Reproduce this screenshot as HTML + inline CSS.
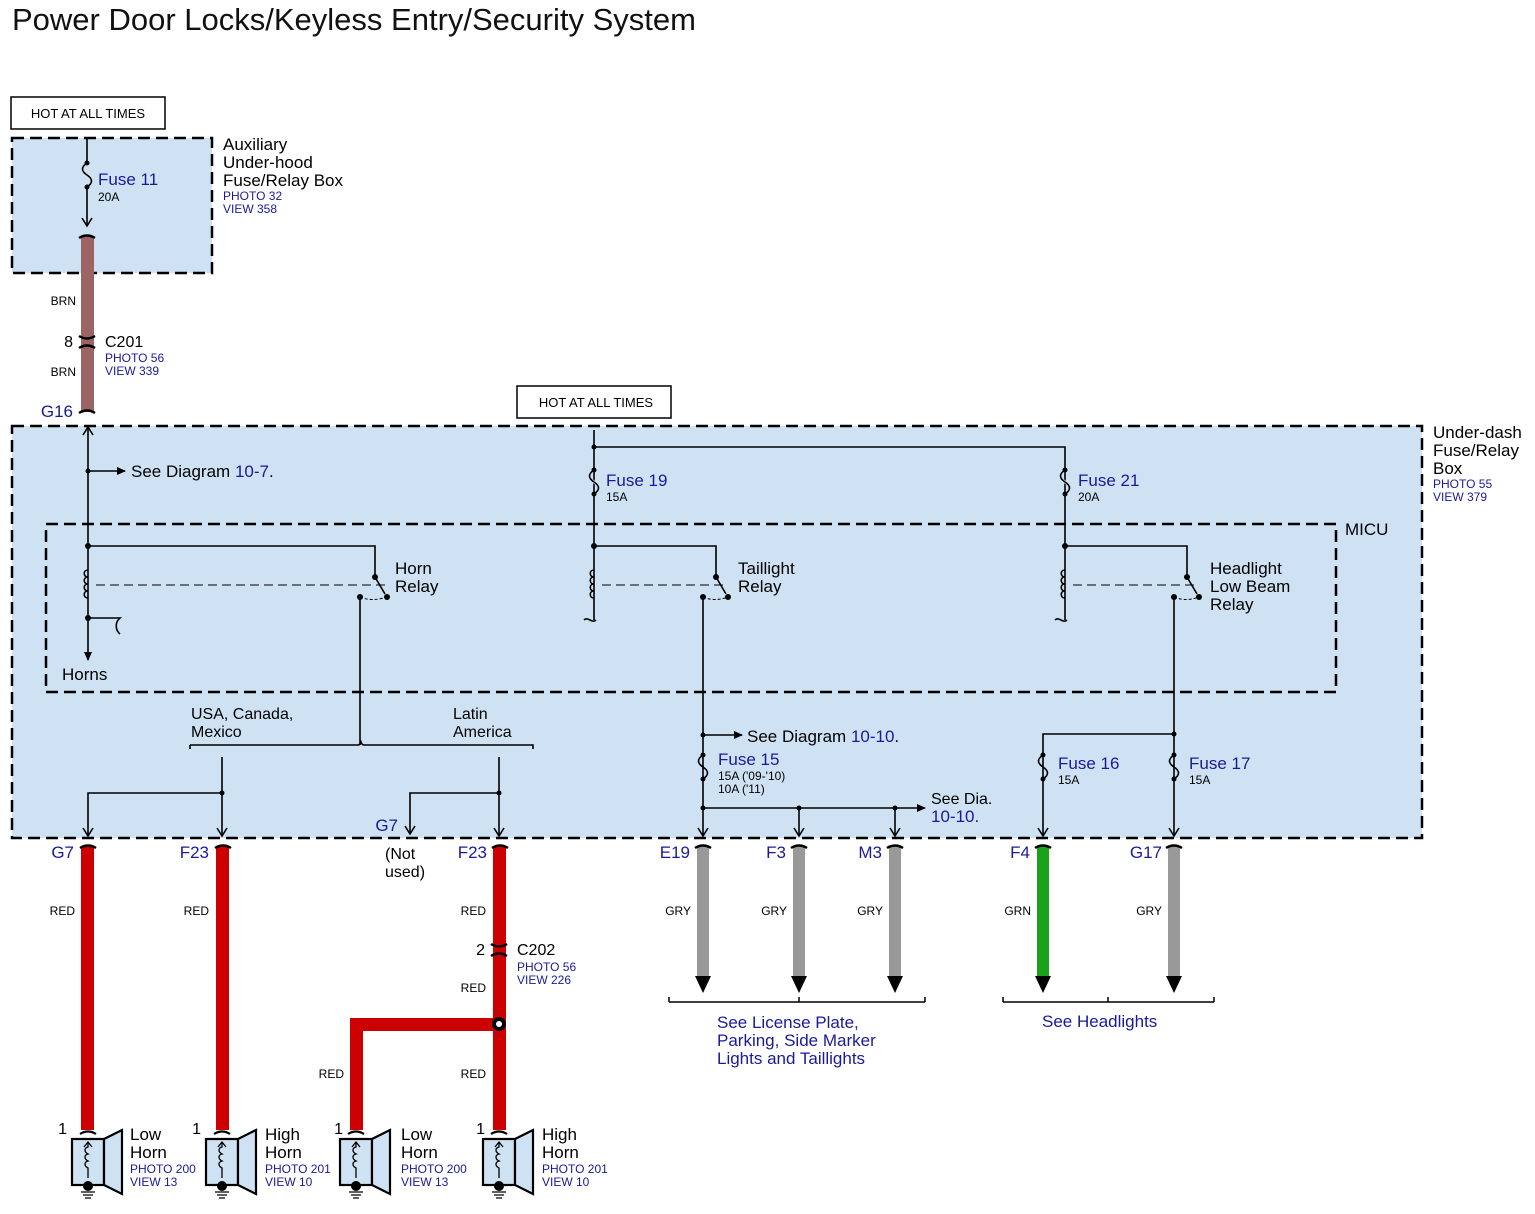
<!DOCTYPE html>
<html><head><meta charset="utf-8"><style>
html,body{margin:0;padding:0;background:#fff}
svg{display:block}
text{font-family:"Liberation Sans",Arial,sans-serif}
.b{fill:#1a1a99}
.k{fill:#111}
</style></head><body>
<svg width="1535" height="1214" viewBox="0 0 1535 1214" xmlns="http://www.w3.org/2000/svg">
<defs>
<marker id="ar" markerWidth="10" markerHeight="10" refX="8" refY="5" orient="auto" markerUnits="userSpaceOnUse"><path d="M0,1 L9,5 L0,9 z" fill="#000"/></marker>
<marker id="av" markerWidth="12" markerHeight="12" refX="10" refY="6" orient="auto" markerUnits="userSpaceOnUse"><path d="M2,1 L10,6 L2,11" fill="none" stroke="#000" stroke-width="1.6"/></marker>
</defs>
<text x="12" y="30" font-size="31" class="k">Power Door Locks/Keyless Entry/Security System</text>

<!-- Aux box -->
<rect x="11" y="97" width="154" height="32" fill="#fff" stroke="#000" stroke-width="1.5"/>
<text x="88" y="118" font-size="13" text-anchor="middle">HOT AT ALL TIMES</text>
<rect x="12" y="138" width="200" height="135" fill="#cfe2f3" stroke="#000" stroke-width="2.5" stroke-dasharray="12,6"/>
<text x="223" y="150" font-size="17">Auxiliary</text>
<text x="223" y="168" font-size="17">Under-hood</text>
<text x="223" y="186" font-size="17">Fuse/Relay Box</text>
<text x="223" y="200" font-size="12" class="b">PHOTO 32</text>
<text x="223" y="213" font-size="12" class="b">VIEW 358</text>
<g stroke="#000" stroke-width="1.6" fill="none">
<path d="M87 138 V163 c-6 4 -6 8 0 12 c6 4 6 8 0 12 V226" marker-end="url(#av)"/>
</g>
<circle cx="87" cy="163" r="2.5"/><circle cx="87" cy="187" r="2.5"/>
<text x="98" y="185" font-size="17" class="b">Fuse 11</text>
<text x="98" y="201" font-size="12">20A</text>
<rect x="81" y="236" width="13" height="176" fill="#9c6464"/>
<g stroke="#000" stroke-width="2.5" fill="none">
<path d="M79 238 q8 -5 16 0"/>
<path d="M79 336 q8 5 16 0"/><path d="M79 348 q8 -5 16 0"/>
<path d="M79 413 q8 -5 16 0"/>
</g>
<text x="76" y="305" font-size="12" text-anchor="end">BRN</text>
<text x="76" y="376" font-size="12" text-anchor="end">BRN</text>
<text x="73" y="347" font-size="16" text-anchor="end">8</text>
<text x="105" y="347" font-size="16">C201</text>
<text x="105" y="362" font-size="12" class="b">PHOTO 56</text>
<text x="105" y="375" font-size="12" class="b">VIEW 339</text>
<text x="73" y="417" font-size="17" class="b" text-anchor="end">G16</text>

<!-- Under-dash box -->
<rect x="517" y="386" width="154" height="32" fill="#fff" stroke="#000" stroke-width="1.5"/>
<text x="596" y="407" font-size="13" text-anchor="middle">HOT AT ALL TIMES</text>
<rect x="12" y="426" width="1410" height="412" fill="#cfe2f3" stroke="#000" stroke-width="2.5" stroke-dasharray="12,6"/>
<text x="1433" y="438" font-size="17">Under-dash</text>
<text x="1433" y="456" font-size="17">Fuse/Relay</text>
<text x="1433" y="474" font-size="17">Box</text>
<text x="1433" y="488" font-size="12" class="b">PHOTO 55</text>
<text x="1433" y="501" font-size="12" class="b">VIEW 379</text>
<rect x="46" y="524" width="1290" height="168" fill="none" stroke="#000" stroke-width="2.5" stroke-dasharray="12,6"/>
<text x="1345" y="535" font-size="17">MICU</text>

<g stroke="#000" stroke-width="1.6" fill="none">
<!-- Horn relay -->
<path d="M88 648 V427" marker-end="url(#av)"/>
<path d="M88 648 V660" marker-end="url(#ar)"/>
<path d="M88 471 H125" marker-end="url(#ar)"/>
<path d="M88 546 H375 V577 L385 594"/>
<path d="M88 570 c-5 0 -5 7 0 7 c-5 0 -5 7 0 7 c-5 0 -5 7 0 7 c-5 0 -5 7 0 7"/>
<path d="M88 618 H120 c-5 4 -5 12 0 16"/>
<path d="M360 597 V745"/>
<path d="M96 585 H385" stroke-dasharray="9,5" stroke-width="1"/>
<path d="M360 597 q12 5 27 0" stroke-dasharray="3,2" stroke-width="1"/>
<!-- bus -->
<path d="M594 430 V620 M594 447 H1065 V620"/>
<path d="M594 470 c-6 4 -6 8 0 12 c6 4 6 8 0 12" stroke="#cfe2f3" stroke-width="3"/>
<path d="M594 470 c-6 4 -6 8 0 12 c6 4 6 8 0 12"/>
<path d="M1065 470 c-6 4 -6 8 0 12 c6 4 6 8 0 12" stroke="#cfe2f3" stroke-width="3"/>
<path d="M1065 470 c-6 4 -6 8 0 12 c6 4 6 8 0 12"/>
<!-- Taillight -->
<path d="M594 546 H716 V577 L726 594"/>
<path d="M602 585 H726" stroke-dasharray="9,5" stroke-width="1"/>
<path d="M703 597 q12 5 25 0" stroke-dasharray="3,2" stroke-width="1"/>
<path d="M584 620 c4 -4 8 4 12 0"/>
<path d="M703 597 V836" marker-end="url(#av)"/>
<path d="M703 735 H742" marker-end="url(#ar)"/>
<path d="M703 808 H925" marker-end="url(#ar)"/>
<path d="M799 808 V836" marker-end="url(#av)"/>
<path d="M895 808 V836" marker-end="url(#av)"/>
<!-- Headlight -->
<path d="M1065 546 H1187 V577 L1197 594"/>
<path d="M1073 585 H1197" stroke-dasharray="9,5" stroke-width="1"/>
<path d="M1174 597 q12 5 25 0" stroke-dasharray="3,2" stroke-width="1"/>
<path d="M1055 620 c4 -4 8 4 12 0"/>
<path d="M1174 597 V836" marker-end="url(#av)"/>
<path d="M1174 734 H1043 V836" marker-end="url(#av)"/>
<!-- USA / Latin -->
<path d="M190 745 H358 q2 0 3 -3 q1 3 3 3 H533 V749 M190 745 V749"/>
<path d="M222 757 V836" marker-end="url(#av)"/>
<path d="M222 793 H88 V836" marker-end="url(#av)"/>
<path d="M499 757 V836" marker-end="url(#av)"/>
<path d="M499 793 H410 V834" marker-end="url(#av)"/>
</g>
<g stroke="#000" stroke-width="1.6" fill="none">
<path d="M594 570 c-5 0 -5 7 0 7 c-5 0 -5 7 0 7 c-5 0 -5 7 0 7 c-5 0 -5 7 0 7"/>
<path d="M1065 570 c-5 0 -5 7 0 7 c-5 0 -5 7 0 7 c-5 0 -5 7 0 7 c-5 0 -5 7 0 7"/>
</g>
<g stroke="#000" stroke-width="1.6" fill="none">
<path d="M703 755 c-6 4 -6 8 0 12 c6 4 6 8 0 12" />
<path d="M1043 755 c-6 4 -6 8 0 12 c6 4 6 8 0 12"/>
<path d="M1174 755 c-6 4 -6 8 0 12 c6 4 6 8 0 12"/>
</g>
<g>
<circle cx="88" cy="471" r="2.5"/><circle cx="88" cy="546" r="3"/><circle cx="88" cy="618" r="3"/>
<circle cx="375" cy="577" r="3"/><circle cx="387" cy="597" r="3"/><circle cx="360" cy="597" r="3"/>
<circle cx="594" cy="447" r="2.5"/><circle cx="594" cy="470" r="2.5"/><circle cx="594" cy="494" r="2.5"/><circle cx="594" cy="546" r="3"/>
<circle cx="1065" cy="470" r="2.5"/><circle cx="1065" cy="494" r="2.5"/><circle cx="1065" cy="546" r="3"/>
<circle cx="716" cy="577" r="3"/><circle cx="728" cy="597" r="3"/><circle cx="703" cy="597" r="3"/>
<circle cx="1187" cy="577" r="3"/><circle cx="1199" cy="597" r="3"/><circle cx="1174" cy="597" r="3"/>
<circle cx="703" cy="735" r="2.5"/><circle cx="703" cy="755" r="2.5"/><circle cx="703" cy="779" r="2.5"/><circle cx="703" cy="808" r="2.5"/>
<circle cx="799" cy="808" r="2.5"/><circle cx="895" cy="808" r="2.5"/>
<circle cx="1174" cy="734" r="2.5"/>
<circle cx="1043" cy="755" r="2.5"/><circle cx="1043" cy="779" r="2.5"/><circle cx="1174" cy="755" r="2.5"/><circle cx="1174" cy="779" r="2.5"/>
<circle cx="222" cy="793" r="2.5"/><circle cx="499" cy="793" r="2.5"/>
</g>
<text x="131" y="477" font-size="17">See Diagram <tspan class="b">10-7</tspan>.</text>
<text x="395" y="574" font-size="17">Horn</text><text x="395" y="592" font-size="17">Relay</text>
<text x="62" y="680" font-size="17">Horns</text>
<text x="606" y="486" font-size="17" class="b">Fuse 19</text><text x="606" y="501" font-size="12">15A</text>
<text x="1078" y="486" font-size="17" class="b">Fuse 21</text><text x="1078" y="501" font-size="12">20A</text>
<text x="738" y="574" font-size="17">Taillight</text><text x="738" y="592" font-size="17">Relay</text>
<text x="1210" y="574" font-size="17">Headlight</text><text x="1210" y="592" font-size="17">Low Beam</text><text x="1210" y="610" font-size="17">Relay</text>
<text x="191" y="719" font-size="16">USA, Canada,</text><text x="191" y="737" font-size="16">Mexico</text>
<text x="453" y="719" font-size="16">Latin</text><text x="453" y="737" font-size="16">America</text>
<text x="747" y="742" font-size="17">See Diagram <tspan class="b">10-10</tspan>.</text>
<text x="718" y="765" font-size="17" class="b">Fuse 15</text>
<text x="718" y="780" font-size="12">15A ('09-'10)</text><text x="718" y="793" font-size="12">10A ('11)</text>
<text x="931" y="804" font-size="16">See Dia.</text><text x="931" y="822" font-size="17" class="b">10-10.</text>
<text x="1058" y="769" font-size="17" class="b">Fuse 16</text><text x="1058" y="784" font-size="12">15A</text>
<text x="1189" y="769" font-size="17" class="b">Fuse 17</text><text x="1189" y="784" font-size="12">15A</text>

<g font-size="17" class="b">
<text x="74" y="858" text-anchor="end">G7</text>
<text x="209" y="858" text-anchor="end">F23</text>
<text x="398" y="831" text-anchor="end">G7</text>
<text x="487" y="858" text-anchor="end">F23</text>
<text x="690" y="858" text-anchor="end">E19</text>
<text x="786" y="858" text-anchor="end">F3</text>
<text x="882" y="858" text-anchor="end">M3</text>
<text x="1030" y="858" text-anchor="end">F4</text>
<text x="1162" y="858" text-anchor="end">G17</text>
</g>
<text x="385" y="859" font-size="16">(Not</text><text x="385" y="877" font-size="16">used)</text>

<g fill="#cc0000">
<rect x="81" y="846" width="13" height="284"/>
<rect x="216" y="846" width="13" height="284"/>
<rect x="493" y="846" width="13" height="284"/>
<path d="M350 1130 V1018 H500 V1031 H363 V1130 z"/>
</g>
<g fill="#999">
<rect x="697" y="846" width="12" height="130"/>
<rect x="793" y="846" width="12" height="130"/>
<rect x="889" y="846" width="12" height="130"/>
<rect x="1168" y="846" width="12" height="130"/>
</g>
<rect x="1037" y="846" width="12" height="130" fill="#1aa31a"/>
<g>
<path d="M695 976 H711 L703 993 z"/><path d="M791 976 H807 L799 993 z"/><path d="M887 976 H903 L895 993 z"/>
<path d="M1035 976 H1051 L1043 993 z"/><path d="M1166 976 H1182 L1174 993 z"/>
</g>
<g stroke="#000" stroke-width="2.5" fill="none">
<path d="M80 848 q8 -5 16 0"/><path d="M215 848 q8 -5 16 0"/><path d="M492 848 q8 -5 16 0"/>
<path d="M695 848 q8 -5 16 0"/><path d="M791 848 q8 -5 16 0"/><path d="M887 848 q8 -5 16 0"/>
<path d="M1035 848 q8 -5 16 0"/><path d="M1166 848 q8 -5 16 0"/>
<path d="M491 944 q8 5 16 0"/><path d="M491 956 q8 -5 16 0"/>
</g>
<circle cx="499" cy="1024" r="7" fill="#000"/><circle cx="499" cy="1024" r="3" fill="#fff"/>
<g font-size="12">
<text x="75" y="915" text-anchor="end">RED</text>
<text x="209" y="915" text-anchor="end">RED</text>
<text x="486" y="915" text-anchor="end">RED</text>
<text x="486" y="992" text-anchor="end">RED</text>
<text x="344" y="1078" text-anchor="end">RED</text>
<text x="486" y="1078" text-anchor="end">RED</text>
<text x="691" y="915" text-anchor="end">GRY</text>
<text x="787" y="915" text-anchor="end">GRY</text>
<text x="883" y="915" text-anchor="end">GRY</text>
<text x="1031" y="915" text-anchor="end">GRN</text>
<text x="1162" y="915" text-anchor="end">GRY</text>
</g>
<text x="485" y="955" font-size="16" text-anchor="end">2</text>
<text x="517" y="955" font-size="16">C202</text>
<text x="517" y="971" font-size="12" class="b">PHOTO 56</text>
<text x="517" y="984" font-size="12" class="b">VIEW 226</text>

<g stroke="#000" stroke-width="1.5" fill="none">
<path d="M669 1002 H925 M669 1002 V997 M925 1002 V997 M799 1002 V997"/>
<path d="M1003 1002 H1214 M1003 1002 V997 M1214 1002 V997 M1108 1002 V997"/>
</g>
<g font-size="17" class="b">
<text x="717" y="1028">See License Plate,</text>
<text x="717" y="1046">Parking, Side Marker</text>
<text x="717" y="1064">Lights and Taillights</text>
<text x="1042" y="1027">See Headlights</text>
</g>

<g id="h1">
<g stroke="#000" stroke-width="2.2" fill="#cfe2f3">
<path d="M80 1134 q8 -5 16 0" fill="none"/>
<rect x="72" y="1139" width="32" height="46"/>
<path d="M104 1139 L122 1130 V1194 L104 1185 z"/>
</g>
<g stroke="#000" stroke-width="1.3" fill="none">
<path d="M88 1178 V1168 c-4 -2 -4 -6 0 -7 c-4 -2 -4 -6 0 -7 c-4 -2 -4 -6 0 -7 V1142 M84 1147 L88 1142 L92 1147"/>
<path d="M81 1192 H95 M83 1195 H93 M85 1198 H91"/>
</g>
<circle cx="88" cy="1186" r="5"/>
</g>
<use href="#h1" x="134"/>
<use href="#h1" x="268"/>
<use href="#h1" x="411"/>
<g font-size="16">
<text x="67" y="1134" text-anchor="end">1</text><text x="201" y="1134" text-anchor="end">1</text>
<text x="343" y="1134" text-anchor="end">1</text><text x="485" y="1134" text-anchor="end">1</text>
<text x="130" y="1140" font-size="17">Low</text><text x="130" y="1158" font-size="17">Horn</text>
<text x="265" y="1140" font-size="17">High</text><text x="265" y="1158" font-size="17">Horn</text>
<text x="401" y="1140" font-size="17">Low</text><text x="401" y="1158" font-size="17">Horn</text>
<text x="542" y="1140" font-size="17">High</text><text x="542" y="1158" font-size="17">Horn</text>
</g>
<g font-size="12" class="b">
<text x="130" y="1173">PHOTO 200</text><text x="130" y="1186">VIEW 13</text>
<text x="265" y="1173">PHOTO 201</text><text x="265" y="1186">VIEW 10</text>
<text x="401" y="1173">PHOTO 200</text><text x="401" y="1186">VIEW 13</text>
<text x="542" y="1173">PHOTO 201</text><text x="542" y="1186">VIEW 10</text>
</g>
</svg>
</body></html>
